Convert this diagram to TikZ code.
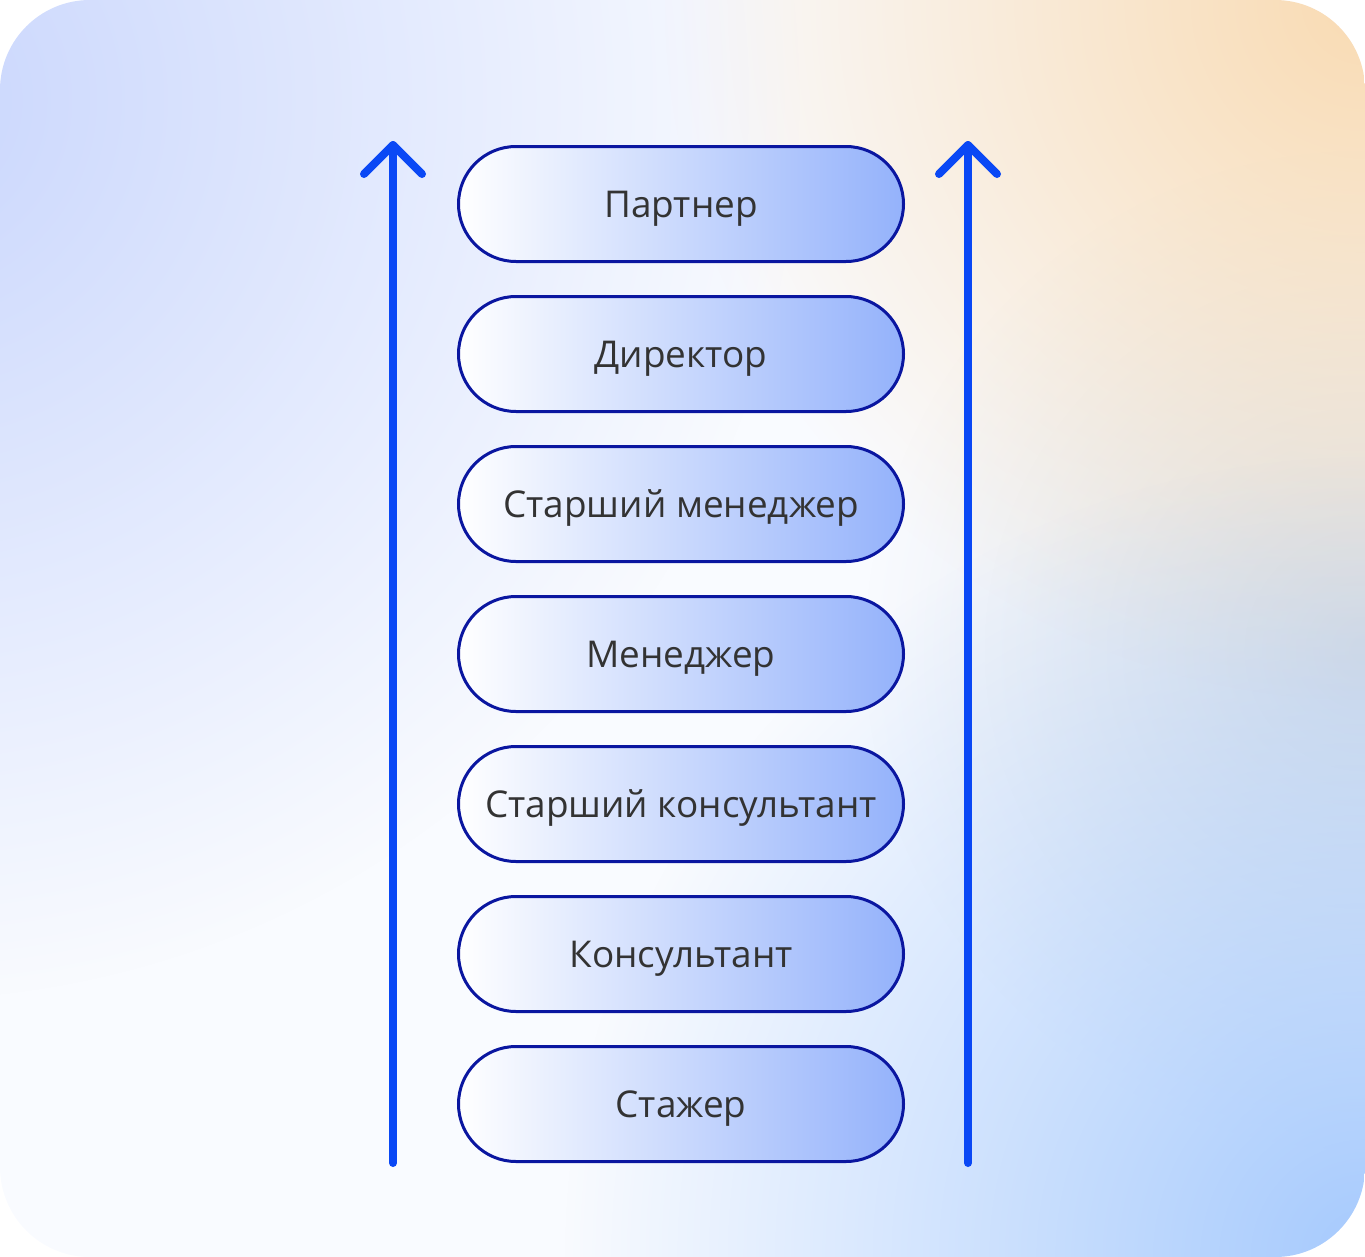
\documentclass[tikz,border=0pt]{standalone}
\usepackage{fontspec}
\setmainfont{Open Sans}
\usetikzlibrary{fadings}

\definecolor{backwhite}{HTML}{F9FBFF}
\definecolor{cornerblue}{HTML}{C9D6FD}
\definecolor{cornerorange}{HTML}{F9DBB3}
\definecolor{sidegrey}{HTML}{D8DEE6}
\definecolor{bottomblue}{HTML}{A6CAFD}
\definecolor{pillline}{RGB}{10,22,160}
\definecolor{pillright}{HTML}{94B2FB}
\definecolor{labeltext}{HTML}{333333}
\definecolor{risecolor}{RGB}{10,72,245}

\tikzfading[name=glowfade, inner color=transparent!0, outer color=transparent!100]

\tikzset{
  rung/.style={draw=pillline, line width=0.6mm, rounded corners=11.5mm,
    minimum width=89mm, minimum height=23mm, inner sep=0pt,
    left color=white, right color=pillright,
    text=labeltext, font=\fontsize{21}{25}\selectfont,
    text height=5.4mm, text depth=0pt},
  riseline/.style={draw=risecolor, line width=1.6mm, line cap=round, line join=round}
}

\begin{document}
\begin{tikzpicture}[x=0.2mm, y=-0.2mm]
\useasboundingbox (0,0) rectangle (1365,1257);

% Draw the background card
\begin{scope}
\clip[rounded corners=18mm] (0,0) rectangle (1365,1257);
\fill[backwhite] (0,0) rectangle (1365,1257);
\fill[sidegrey, path fading=glowfade] (1365,650) circle (100mm);
\fill[cornerorange, path fading=glowfade] (1365,0) circle (140mm);
\fill[cornerblue, path fading=glowfade] (-100,100) circle (180mm);
\fill[bottomblue, path fading=glowfade] (1365,1257) circle (160mm);
\end{scope}

% Draw the rungs of the ladder
\node[rung] (partner) at (681,204) {Партнер};
\node[rung] (director) at (681,354) {Директор};
\node[rung] (srmanager) at (681,504) {Старший менеджер};
\node[rung] (manager) at (681,654) {Менеджер};
\node[rung] (srconsult) at (681,804) {Старший консультант};
\node[rung] (consult) at (681,954) {Консультант};
\node[rung] (intern) at (681,1104) {Стажер};

% Draw the two arrows going up
\coordinate (leftfoot) at (393,1163);
\coordinate (lefthead) at (393,145);
\coordinate (rightfoot) at (968,1163);
\coordinate (righthead) at (968,145);

\draw[riseline] (leftfoot) -- (lefthead);
\draw[riseline] (lefthead) ++(-29,29) -- (lefthead) -- ++(29,29);
\draw[riseline] (rightfoot) -- (righthead);
\draw[riseline] (righthead) ++(-29,29) -- (righthead) -- ++(29,29);

\end{tikzpicture}
\end{document}
